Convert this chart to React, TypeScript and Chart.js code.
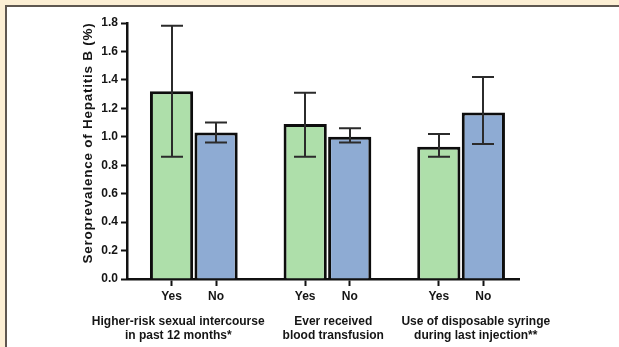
import React, { useEffect, useRef } from "react";
import { Chart, registerables } from "chart.js";

Chart.register(...registerables);

// ---- data ----
const barLabels = ["Yes", "No", "Yes", "No", "Yes", "No"];
const barPositions = [1, 2, 4, 5, 7, 8];
const prevalence = [1.32, 1.03, 1.09, 1.0, 0.93, 1.17];
const ciLower = [0.86, 0.96, 0.86, 0.96, 0.86, 0.95];
const ciUpper = [1.78, 1.1, 1.31, 1.06, 1.02, 1.42];
const groupLabels = [
  ["Higher-risk sexual intercourse", "in past 12 months*"],
  ["Ever received", "blood transfusion"],
  ["Use of disposable syringe", "during last injection**"],
];
const groupLabelAnchors = [1.15, 4.63, 7.83];
const yTickValues = [0, 0.2, 0.4, 0.6, 0.8, 1.0, 1.2, 1.4, 1.6, 1.8];
const yTitle = "Seroprevalence of Hepatitis B (%)";

// ---- styles ----
const GREEN = "#aedfaa";
const BLUE = "#8eabd3";
const FONT = "'Liberation Sans', Arial, Helvetica, sans-serif";
const TEXT = "#151515";

const errorBarsPlugin = {
  id: "errorBars",
  afterDatasetsDraw(chart: any) {
    const { ctx } = chart;
    const x = chart.scales.x;
    const y = chart.scales.y;
    ctx.save();
    ctx.strokeStyle = "#2b2b2b";
    ctx.lineWidth = 2;
    const half = 11;
    barPositions.forEach((p, i) => {
      const px = Math.round(x.getPixelForValue(p));
      const top = y.getPixelForValue(ciUpper[i]);
      const bot = y.getPixelForValue(ciLower[i]);
      ctx.beginPath();
      ctx.moveTo(px, top);
      ctx.lineTo(px, bot);
      ctx.moveTo(px - half, top);
      ctx.lineTo(px + half, top);
      ctx.moveTo(px - half, bot);
      ctx.lineTo(px + half, bot);
      ctx.stroke();
    });
    ctx.restore();
  },
};

const textPlugin = {
  id: "extraText",
  afterDraw(chart: any) {
    const { ctx, chartArea } = chart;
    const x = chart.scales.x;
    ctx.save();
    ctx.fillStyle = TEXT;
    ctx.font = `bold 12px ${FONT}`;
    ctx.textAlign = "center";
    ctx.textBaseline = "middle";
    groupLabels.forEach((lines, g) => {
      const cx = x.getPixelForValue(groupLabelAnchors[g]);
      lines.forEach((line, li) => {
        ctx.fillText(line, cx, chartArea.bottom + 42.5 + li * 13.8);
      });
    });
    ctx.restore();

    ctx.save();
    ctx.fillStyle = TEXT;
    ctx.font = `bold 13.5px ${FONT}`;
    (ctx as any).letterSpacing = "0.75px";
    ctx.textAlign = "center";
    ctx.textBaseline = "middle";
    ctx.translate(81, (chartArea.top + chartArea.bottom) / 2 - 8);
    ctx.rotate(-Math.PI / 2);
    ctx.fillText(yTitle, 0, 0);
    ctx.restore();
  },
};

export default function App() {
  const ref = useRef<HTMLCanvasElement | null>(null);

  useEffect(() => {
    if (!ref.current) return;
    const chart = new Chart(ref.current, {
      type: "bar",
      data: {
        datasets: [
          {
            data: barPositions.map((p, i) => ({ x: p, y: prevalence[i] })),
            backgroundColor: barLabels.map((l) => (l === "Yes" ? GREEN : BLUE)),
            borderColor: "#0d0d0d",
            borderWidth: 3,
            borderSkipped: "start",
            categoryPercentage: 1,
            barPercentage: 0.97,
          } as any,
        ],
      },
      options: {
        animation: false,
        responsive: false,
        events: [],
        layout: { padding: { left: 0, right: 100, top: 16, bottom: 43 } },
        plugins: {
          legend: { display: false },
          tooltip: { enabled: false },
          title: { display: false },
        },
        scales: {
          x: {
            type: "linear",
            min: 0,
            max: 8.8,
            offset: false,
            afterBuildTicks: (scale: any) => {
              scale.ticks = barPositions.map((v) => ({ value: v }));
            },
            afterFit: (scale: any) => {
              scale.height = 25;
            },
            ticks: {
              autoSkip: false,
              maxRotation: 0,
              padding: 3,
              color: TEXT,
              font: { family: FONT, size: 12, weight: "bold" },
              callback: (v: any) => {
                const i = barPositions.indexOf(Number(v));
                return i >= 0 ? barLabels[i] : "";
              },
            },
            grid: {
              display: true,
              drawOnChartArea: false,
              drawTicks: true,
              offset: false,
              tickLength: 7,
              tickWidth: 2,
              tickColor: "#111",
            },
            border: { display: true, color: "#111", width: 2.5 },
          } as any,
          y: {
            type: "linear",
            min: 0,
            max: 1.8,
            afterBuildTicks: (scale: any) => {
              scale.ticks = yTickValues.map((v) => ({ value: v }));
            },
            afterFit: (scale: any) => {
              scale.width = 120;
            },
            ticks: {
              padding: 3,
              color: TEXT,
              font: { family: FONT, size: 12, weight: "bold" },
              callback: (v: any) => Number(v).toFixed(1),
            },
            grid: {
              display: true,
              drawOnChartArea: false,
              drawTicks: true,
              tickLength: 6,
              tickWidth: 2,
              tickColor: "#111",
            },
            border: { display: true, color: "#111", width: 2.5 },
          } as any,
        },
      },
      plugins: [errorBarsPlugin, textPlugin],
    });
    return () => chart.destroy();
  }, []);

  return (
    <div
      style={{
        position: "fixed",
        left: 0,
        top: 0,
        width: 619,
        height: 347,
        background: "#fcefd4",
        overflow: "hidden",
      }}
    >
      <div
        style={{
          position: "absolute",
          left: 5,
          top: 5,
          right: 0,
          bottom: 0,
          background: "#ffffff",
          borderLeft: "2px solid #5e5750",
          borderTop: "2px solid #5e5750",
        }}
      >
        <canvas
          ref={ref}
          width={612}
          height={340}
          style={{ position: "absolute", left: 0, top: 0, width: 612, height: 340 }}
        />
      </div>
    </div>
  );
}
